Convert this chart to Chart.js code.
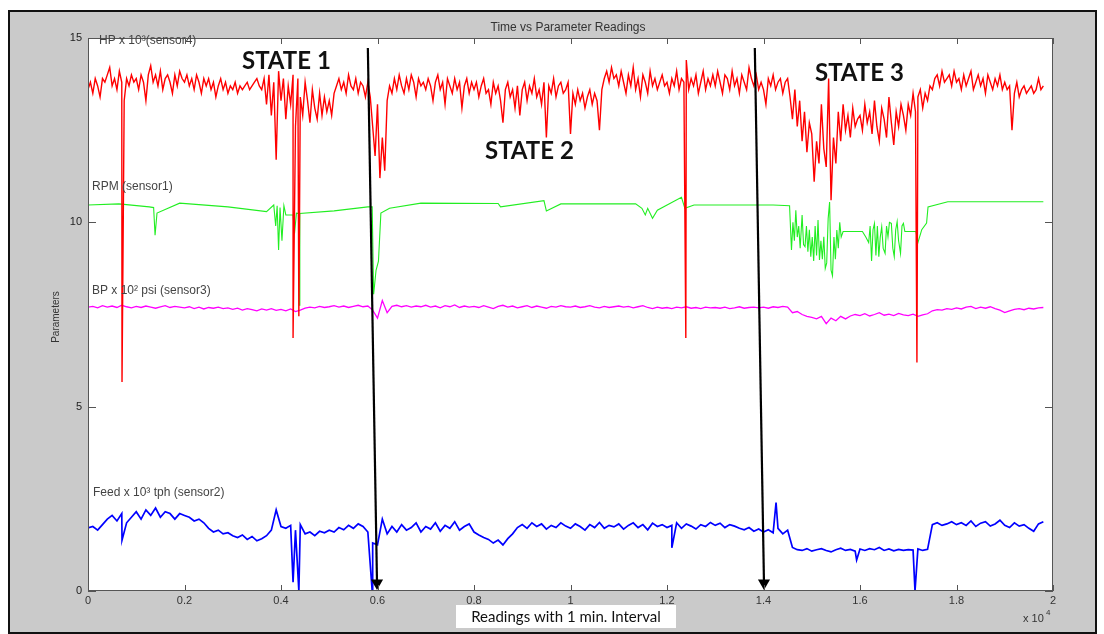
<!DOCTYPE html>
<html><head><meta charset="utf-8">
<script src="https://cdn.jsdelivr.net/npm/chart.js@4.4.1/dist/chart.umd.min.js"></script>
<style>html,body{margin:0;padding:0;background:#fff;}canvas{display:block;}</style>
</head><body>
<canvas id="c" width="1104" height="634"></canvas>
<script>
// ---- axis ticks ----
const xTicks = [0,0.2,0.4,0.6,0.8,1,1.2,1.4,1.6,1.8,2];
const yTicks = [0,5,10,15];

// ---- HP x 10^3 (sensor4), one value every 0.005 x10^4 readings ----
const hpStep = 0.005;
const hpValues = [
13.6,13.8,13.5,13.9,13.7,13.4,13.9,13.8,14.0,14.2,13.7,13.9,13.6,14.1,13.8,13.3,13.9,13.7,14.0,13.8,
13.9,13.6,14.0,13.8,13.3,14.0,14.25,13.8,14.0,13.7,14.1,13.6,13.9,14.0,13.8,13.5,14.0,13.7,14.1,13.9,
13.8,14.0,13.7,13.9,13.6,14.0,13.8,13.5,13.9,13.7,13.9,13.6,13.8,13.4,13.7,13.9,13.6,13.8,13.5,13.7,
13.6,13.8,13.5,13.7,13.6,13.7,13.8,13.6,13.7,13.8,13.9,13.7,13.6,13.9,13.2,14.0,12.9,13.8,11.7,14.1,
13.3,13.9,12.8,13.7,13.2,14.0,12.6,13.9,13.4,12.9,13.8,13.3,12.7,13.6,13.1,12.8,13.5,12.9,13.4,13.0,
13.3,12.9,13.5,13.7,13.9,13.6,13.8,13.5,14.0,13.7,13.6,13.9,13.5,13.8,13.7,13.4,13.8,13.4,12.6,11.8,
13.2,11.2,12.3,11.4,13.3,13.7,13.5,13.9,13.6,14.0,13.7,13.5,13.9,13.6,14.0,13.8,13.4,13.9,13.7,13.8,
13.6,13.9,13.7,13.3,13.8,14.0,13.6,13.8,13.2,13.9,13.7,13.5,13.9,13.6,13.8,13.1,13.7,13.9,13.5,13.8,
13.6,13.8,13.4,13.7,13.9,13.5,13.6,13.2,13.8,13.5,13.7,13.3,12.7,13.6,13.8,13.4,13.6,13.1,13.7,12.9,
13.6,13.8,13.3,13.7,13.5,13.9,13.4,13.6,13.2,13.8,12.3,13.7,13.5,13.9,13.4,13.7,13.8,13.5,13.6,13.8,
12.4,13.5,13.2,13.6,13.3,13.5,13.1,13.4,13.6,13.2,13.5,13.3,12.5,13.6,13.9,14.1,13.8,14.2,13.9,14.0,
13.7,14.1,13.8,13.5,14.0,13.7,14.2,13.6,13.9,13.4,14.0,13.8,13.5,14.1,13.7,13.9,13.6,13.8,14.0,13.7,
13.8,13.5,13.9,13.7,14.1,13.6,13.9,13.8,14.4,13.6,13.9,13.7,14.0,13.5,13.8,14.1,13.6,13.9,13.7,14.0,
13.7,14.1,13.8,13.5,14.0,13.9,13.6,14.1,13.7,13.9,13.5,14.0,13.8,13.6,14.2,13.9,13.7,14.0,13.6,13.8,
13.6,13.2,13.9,13.7,14.0,13.6,13.8,13.9,13.5,13.8,13.9,13.4,12.8,13.6,12.6,13.3,12.2,13.0,11.9,12.7,
12.4,11.1,12.2,11.6,13.2,12.0,11.5,13.9,10.6,12.3,11.6,13.0,12.2,13.2,12.5,12.9,12.3,13.1,12.6,12.8,
12.9,12.5,13.2,12.7,13.0,12.4,13.3,12.6,12.2,13.1,12.8,12.3,13.4,12.7,12.1,13.0,12.6,13.2,12.9,12.5,
13.2,12.9,13.5,13.0,13.4,13.6,13.1,13.5,13.3,13.7,13.6,13.9,14.0,13.7,14.1,13.8,13.9,14.0,13.7,14.1,
13.8,13.9,13.6,14.0,13.7,13.9,14.1,13.6,13.8,14.0,13.7,13.9,13.5,14.0,13.8,13.6,13.9,13.7,14.0,13.6,
13.8,13.6,13.7,12.5,13.5,13.8,13.4,13.6,13.7,13.5,13.6,13.7,13.5,13.6,13.9,13.6,13.7
];
const hpSpikeX = [0.0705, 0.425, 0.437, 1.239, 1.718];
const hpSpikeY = [5.67, 6.86, 7.45, 6.86, 6.2];

// ---- RPM (sensor1) ----
const rpmX = [0,0.064,0.127,0.136,0.139,0.143,0.19,0.29,0.37,0.385,0.389,0.392,0.395,0.398,0.402,0.406,0.41,0.425,0.428,0.432,0.437,0.438,0.439,
0.51,0.58,0.589,0.592,0.597,0.602,0.607,0.625,0.69,0.85,0.855,0.945,0.95,0.98,1.135,1.148,1.155,1.16,1.17,1.18,1.23,1.237,1.256,1.42,
1.454,1.458,1.461,1.464,1.467,1.470,1.473,1.476,1.480,1.483,1.486,1.489,1.492,1.495,1.498,1.501,1.504,1.507,1.510,1.513,1.516,1.519,1.522,1.525,
1.528,1.531,1.534,1.537,1.540,1.543,1.546,1.549,1.552,1.555,1.558,1.561,1.565,1.605,1.612,1.618,1.621,1.624,1.627,1.630,1.633,1.636,1.639,1.642,
1.645,1.648,1.652,1.655,1.658,1.661,1.665,1.668,1.671,1.674,1.677,1.680,1.684,1.687,1.690,1.693,1.716,1.720,1.728,1.738,1.741,1.782,1.98];
const rpmY = [10.47,10.5,10.42,10.4,9.65,10.25,10.52,10.42,10.29,10.47,9.9,10.45,9.25,10.4,9.5,10.45,10.2,10.2,9.7,10.25,10.24,7.75,10.24,
10.31,10.42,10.42,8.05,8.7,8.95,10.25,10.38,10.52,10.51,10.42,10.59,10.31,10.5,10.5,10.38,10.2,10.38,10.11,10.33,10.68,10.38,10.47,10.47,
10.45,9.25,10.0,9.5,10.33,9.6,9.9,9.3,10.2,9.4,9.34,9.9,9.2,9.8,9.07,9.6,8.95,9.9,9.1,10.06,8.98,9.5,9.0,9.61,
8.75,8.9,10.1,10.55,8.7,8.55,9.6,9.0,9.79,9.3,10.0,9.6,9.75,9.75,9.6,9.45,9.9,8.95,9.8,9.97,9.1,9.9,9.07,9.6,
9.88,9.3,9.16,9.9,9.61,10.0,9.97,9.3,9.07,9.8,10.02,9.5,9.16,9.9,9.97,9.75,9.75,9.45,9.8,9.98,10.42,10.56,10.56];

// ---- BP x 10^2 psi (sensor3), one value every 0.01 ----
const bpStep = 0.01;
const bpValues = [
7.70,7.72,7.68,7.74,7.70,7.73,7.69,7.75,7.71,7.68,
7.72,7.69,7.73,7.70,7.67,7.71,7.74,7.69,7.72,7.70,
7.68,7.71,7.66,7.70,7.65,7.69,7.67,7.70,7.66,7.68,
7.64,7.67,7.62,7.66,7.63,7.60,7.65,7.62,7.66,7.61,
7.64,7.60,7.65,7.58,7.62,7.67,7.70,7.68,7.72,7.69,
7.71,7.74,7.70,7.73,7.69,7.72,7.75,7.71,7.73,7.62,
7.40,7.88,7.55,7.72,7.75,7.71,7.74,7.70,7.73,7.71,
7.75,7.70,7.73,7.68,7.74,7.71,7.76,7.69,7.73,7.70,
7.72,7.69,7.74,7.70,7.66,7.72,7.75,7.70,7.73,7.68,
7.71,7.74,7.69,7.73,7.70,7.67,7.72,7.70,7.74,7.71,
7.70,7.73,7.69,7.71,7.74,7.70,7.68,7.72,7.69,7.71,
7.73,7.70,7.72,7.68,7.71,7.74,7.69,7.66,7.70,7.67,
7.69,7.66,7.70,7.68,7.71,7.67,7.69,7.66,7.70,7.68,
7.69,7.67,7.70,7.66,7.68,7.71,7.67,7.69,7.70,7.68,
7.70,7.67,7.71,7.69,7.72,7.70,7.55,7.58,7.50,7.45,
7.42,7.38,7.45,7.25,7.40,7.33,7.45,7.38,7.46,7.50,
7.47,7.52,7.46,7.50,7.55,7.48,7.51,7.47,7.53,7.49,
7.47,7.51,7.45,7.49,7.52,7.60,7.63,7.62,7.66,7.64,
7.68,7.65,7.70,7.72,7.66,7.70,7.67,7.71,7.66,7.62,
7.55,7.60,7.64,7.66,7.63,7.67,7.65,7.68,7.69
];

// ---- Feed x 10^3 tph (sensor2), one value every 0.01 ----
const feedStep = 0.01;
const feedValues = [
1.71,1.75,1.65,1.80,1.95,2.05,1.90,2.10,1.85,2.00,
2.15,1.95,2.20,2.05,2.25,2.00,2.15,2.10,1.95,2.10,
2.05,2.00,1.90,1.95,1.85,1.70,1.60,1.65,1.55,1.58,
1.50,1.45,1.52,1.40,1.48,1.36,1.42,1.50,1.65,2.20,
1.75,1.70,1.78,1.65,1.80,1.55,1.60,1.50,1.62,1.58,
1.65,1.60,1.72,1.66,1.78,1.70,1.82,1.75,1.60,1.30,
1.25,1.95,1.55,1.75,1.60,1.80,1.65,1.72,1.85,1.60,
1.75,1.68,1.85,1.62,1.78,1.70,1.88,1.65,1.75,1.82,
1.60,1.52,1.45,1.40,1.30,1.38,1.25,1.42,1.55,1.72,
1.80,1.70,1.85,1.75,1.82,1.68,1.78,1.72,1.85,1.76,
1.70,1.82,1.75,1.65,1.80,1.72,1.86,1.70,1.78,1.74,
1.82,1.68,1.78,1.85,1.72,1.80,1.66,1.84,1.75,1.80,
1.72,1.78,1.85,1.70,1.82,1.76,1.68,1.80,1.75,1.86,
1.78,1.84,1.72,1.80,1.76,1.70,1.66,1.72,1.62,1.68,
1.60,1.66,1.58,1.70,1.55,1.65,1.18,1.12,1.10,1.15,
1.08,1.12,1.15,1.10,1.06,1.12,1.16,1.10,1.13,1.08,
1.14,1.10,1.15,1.12,1.18,1.10,1.14,1.09,1.13,1.10,
1.12,1.11,1.14,1.10,1.13,1.80,1.85,1.78,1.82,1.88,
1.80,1.85,1.78,1.90,1.75,1.84,1.88,1.76,1.82,1.92,
1.78,1.72,1.85,1.76,1.80,1.70,1.62,1.82,1.88
];
const feedSpikeX = [0.0705, 0.425, 0.437, 0.589, 1.21, 1.426, 1.593, 1.714];
const feedSpikeY = [1.38, 0.24, 0.0, 0.0, 1.17, 2.4, 0.84, 0.0];

// ---- state arrows (start / end) ----
const arrow1X = [0.580, 0.599], arrow2X = [1.382, 1.401];
const arrowY = [14.73, 0.22];

function gridSeries(step, vals, sx, sy) {
  const pts = vals.map((v, i) => ({x: +(i * step).toFixed(4), y: v}));
  (sx || []).forEach((x, i) => pts.push({x: x, y: sy[i]}));
  pts.sort((a, b) => a.x - b.x);
  return pts;
}
function xySeries(xs, ys) { return xs.map((x, i) => ({x: x, y: ys[i]})); }

const hpData = gridSeries(hpStep, hpValues, hpSpikeX, hpSpikeY);
const rpmData = xySeries(rpmX, rpmY);
const bpData = gridSeries(bpStep, bpValues);
const feedData = gridSeries(feedStep, feedValues, feedSpikeX, feedSpikeY);

const arrowDs = (xs) => ({
  data: xySeries(xs, arrowY), borderColor: '#000', borderWidth: 2.2,
  pointRadius: [0, 7], pointStyle: 'triangle', pointRotation: 180,
  pointBackgroundColor: '#000', pointBorderColor: '#000', pointBorderWidth: 0
});

const deco = {
  id: 'deco',
  beforeDraw(chart) {
    const c = chart.ctx, a = chart.chartArea;
    c.save();
    c.fillStyle = '#fff'; c.fillRect(0, 0, 1104, 634);
    c.fillStyle = '#cacaca'; c.fillRect(9, 11, 1087, 623);
    c.strokeStyle = '#111'; c.lineWidth = 2; c.strokeRect(9, 11, 1087, 622);
    c.fillStyle = '#fff'; c.fillRect(a.left, a.top, a.right - a.left, a.bottom - a.top);
    c.restore();
  },
  afterDatasetsDraw(chart) {
    const c = chart.ctx, a = chart.chartArea, xs = chart.scales.x, ys = chart.scales.y;
    c.save();
    c.strokeStyle = '#555'; c.lineWidth = 1;
    c.strokeRect(a.left + 0.5, a.top + 0.5, a.right - a.left - 1, a.bottom - a.top - 1);
    c.beginPath();
    xTicks.forEach(v => {
      const p = Math.round(xs.getPixelForValue(v)) + 0.5;
      c.moveTo(p, a.bottom); c.lineTo(p, a.bottom - 6);
      c.moveTo(p, a.top); c.lineTo(p, a.top + 6);
    });
    yTicks.forEach(v => {
      const p = Math.round(ys.getPixelForValue(v)) + 0.5;
      c.moveTo(a.left, p); c.lineTo(a.left + 8, p);
      c.moveTo(a.right, p); c.lineTo(a.right - 8, p);
    });
    c.stroke();
    // series labels
    c.fillStyle = '#444'; c.font = '12px "Liberation Sans", Arial, sans-serif';
    c.textBaseline = 'middle'; c.textAlign = 'left';
    c.fillText('HP x 10³(sensor4)', 99, 41);
    c.fillText('RPM (sensor1)', 92, 187);
    c.fillText('BP x 10² psi (sensor3)', 92, 291);
    c.fillText('Feed x 10³ tph (sensor2)', 93, 493);
    // state labels
    c.fillStyle = '#111'; c.font = 'bold 24px Lato, "Open Sans", sans-serif';
    c.fillText('STATE 1', 242, 61);
    c.fillText('STATE 2', 485, 151);
    c.fillText('STATE 3', 815, 73);
    c.restore();
  },
  afterDraw(chart) {
    const c = chart.ctx;
    c.save();
    c.fillStyle = '#333'; c.textBaseline = 'middle';
    c.font = '12px "Liberation Sans", Arial, sans-serif'; c.textAlign = 'center';
    c.fillText('Time vs Parameter Readings', 568, 28);
    c.font = '11px "Liberation Sans", Arial, sans-serif'; c.textAlign = 'left';
    c.fillText('x 10', 1023, 619);
    c.font = '8px "Liberation Sans", Arial, sans-serif';
    c.fillText('4', 1046, 613);
    c.save();
    c.translate(56, 317); c.rotate(-Math.PI / 2);
    c.font = '10px "Liberation Sans", Arial, sans-serif'; c.textAlign = 'center';
    c.fillText('Parameters', 0, 0);
    c.restore();
    c.fillStyle = '#fff'; c.fillRect(456, 605, 220, 23);
    c.fillStyle = '#111'; c.font = '15px Lato, "Open Sans", sans-serif'; c.textAlign = 'center';
    c.fillText('Readings with 1 min. Interval', 566, 617);
    c.restore();
  }
};

new Chart(document.getElementById('c'), {
  type: 'line',
  data: {
    datasets: [
      arrowDs(arrow1X),
      arrowDs(arrow2X),
      {data: hpData, borderColor: '#ff0000', borderWidth: 1.4},
      {data: rpmData, borderColor: '#22ee22', borderWidth: 1.1},
      {data: bpData, borderColor: '#ff00ff', borderWidth: 1.3},
      {data: feedData, borderColor: '#0000ff', borderWidth: 1.7}
    ]
  },
  options: {
    responsive: false, animation: false, devicePixelRatio: 1,
    layout: {padding: {left: 48, right: 51, top: 38, bottom: 20}},
    elements: {point: {radius: 0}, line: {tension: 0}},
    plugins: {legend: {display: false}, tooltip: {enabled: false}},
    scales: {
      x: {
        type: 'linear', min: 0, max: 2,
        grid: {display: false, drawTicks: false}, border: {display: false},
        afterBuildTicks: s => { s.ticks = xTicks.map(v => ({value: v})); },
        afterFit: s => { s.height = 23; },
        ticks: {padding: 3, maxRotation: 0, autoSkip: false, color: '#333',
          font: {family: '"Liberation Sans", Arial, sans-serif', size: 11},
          callback: v => String(+v.toFixed(1))}
      },
      y: {
        min: 0, max: 15,
        grid: {display: false, drawTicks: false}, border: {display: false},
        afterBuildTicks: s => { s.ticks = yTicks.map(v => ({value: v})); },
        afterFit: s => { s.width = 40; },
        ticks: {padding: 6, color: '#222',
          font: {family: '"Liberation Sans", Arial, sans-serif', size: 11},
          callback: v => String(v)}
      }
    }
  },
  plugins: [deco]
});
</script>
</body></html>
